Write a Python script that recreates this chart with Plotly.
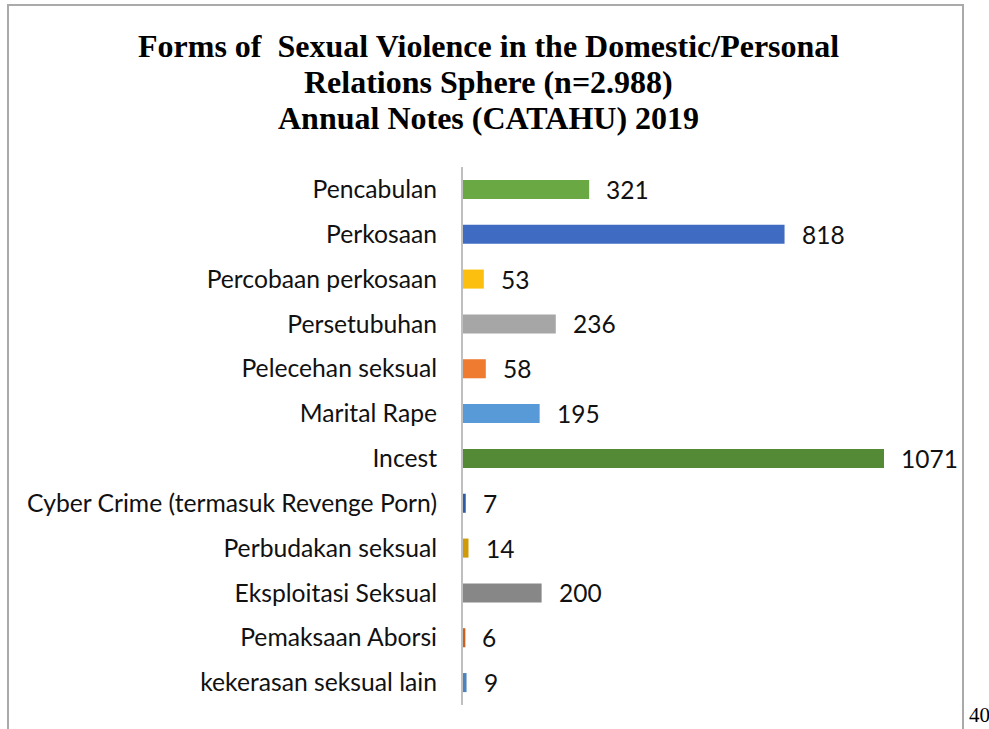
import plotly.graph_objects as go

categories = [
    "Pencabulan", "Perkosaan", "Percobaan perkosaan", "Persetubuhan",
    "Pelecehan seksual", "Marital Rape", "Incest",
    "Cyber Crime (termasuk Revenge Porn)", "Perbudakan seksual",
    "Eksploitasi Seksual", "Pemaksaan Aborsi", "kekerasan seksual lain",
]
values = [321, 818, 53, 236, 58, 195, 1071, 7, 14, 200, 6, 9]
colors = [
    "#6aa843", "#3f6cc2", "#fdbf0f", "#a6a6a6", "#ee7b30", "#589ad8",
    "#548a35", "#2d5ba8", "#d09a07", "#878787", "#c9601d", "#4a83bd",
]
title_lines = [
    "Forms of  Sexual Violence in the Domestic/Personal",
    "Relations Sphere (n=2.988)",
    "Annual Notes (CATAHU) 2019",
]
page_number = "40"

W, H = 989, 729
L, R, T, B = 463, 49, 167, 24
pw, ph = W - L - R, H - T - B

def px(x):
    return (x - L) / pw

def py(y):
    return (H - B - y) / ph

LABEL_FONT = "Lato, Carlito, sans-serif"

fig = go.Figure()
fig.add_trace(go.Bar(
    y=categories, x=values, orientation="h",
    marker=dict(color=colors, line=dict(width=0)),
    hoverinfo="x+y",
))

annotations = []
for c, v in zip(categories, values):
    annotations.append(dict(
        x=v, y=c, xref="x", yref="y", text=str(v), showarrow=False,
        xanchor="left", xshift=15, yshift=0,
        font=dict(family=LABEL_FONT, size=24.5, color="#111111"),
    ))

for i, line in enumerate(title_lines):
    annotations.append(dict(
        x=px(488), y=py(46 + i * 36), xref="paper", yref="paper", text="<b>%s</b>" % line,
        showarrow=False, xanchor="center", yanchor="middle",
        font=dict(family="Liberation Serif, serif", size=32, color="#000000"),
    ))

annotations.append(dict(
    x=px(967), y=py(715), xref="paper", yref="paper", text=page_number,
    showarrow=False, xanchor="left", yanchor="middle",
    font=dict(family="Liberation Serif, serif", size=21, color="#000000"),
))

shapes = [
    dict(type="line", xref="paper", yref="paper", x0=px(8), x1=px(8), y0=py(4), y1=py(740),
         line=dict(color="#aaaaaa", width=2)),
    dict(type="line", xref="paper", yref="paper", x0=px(963), x1=px(963), y0=py(4), y1=py(740),
         line=dict(color="#aaaaaa", width=2)),
    dict(type="line", xref="paper", yref="paper", x0=px(7), x1=px(964), y0=py(5), y1=py(5),
         line=dict(color="#aaaaaa", width=2)),
]

fig.update_layout(
    width=W, height=H,
    margin=dict(l=L, r=R, t=T, b=B, pad=0),
    paper_bgcolor="white", plot_bgcolor="white",
    bargap=0.575,
    showlegend=False,
    annotations=annotations,
    shapes=shapes,
    xaxis=dict(range=[0, pw / (421 / 1071)], visible=False, fixedrange=True),
    yaxis=dict(
        autorange="reversed", showline=True, linecolor="#bfbfbf", linewidth=2,
        ticks="", ticklabelstandoff=19, showgrid=False, zeroline=False,
        tickfont=dict(family=LABEL_FONT, size=24.7, color="#111111"),
        fixedrange=True,
    ),
)

fig.write_html("out.html", config={"displayModeBar": False})

with open("out.html", "r", encoding="utf-8") as f:
    html = f.read()
html = html.replace("<body>", '<body style="margin:0;padding:0;overflow:hidden">', 1)
with open("out.html", "w", encoding="utf-8") as f:
    f.write(html)
